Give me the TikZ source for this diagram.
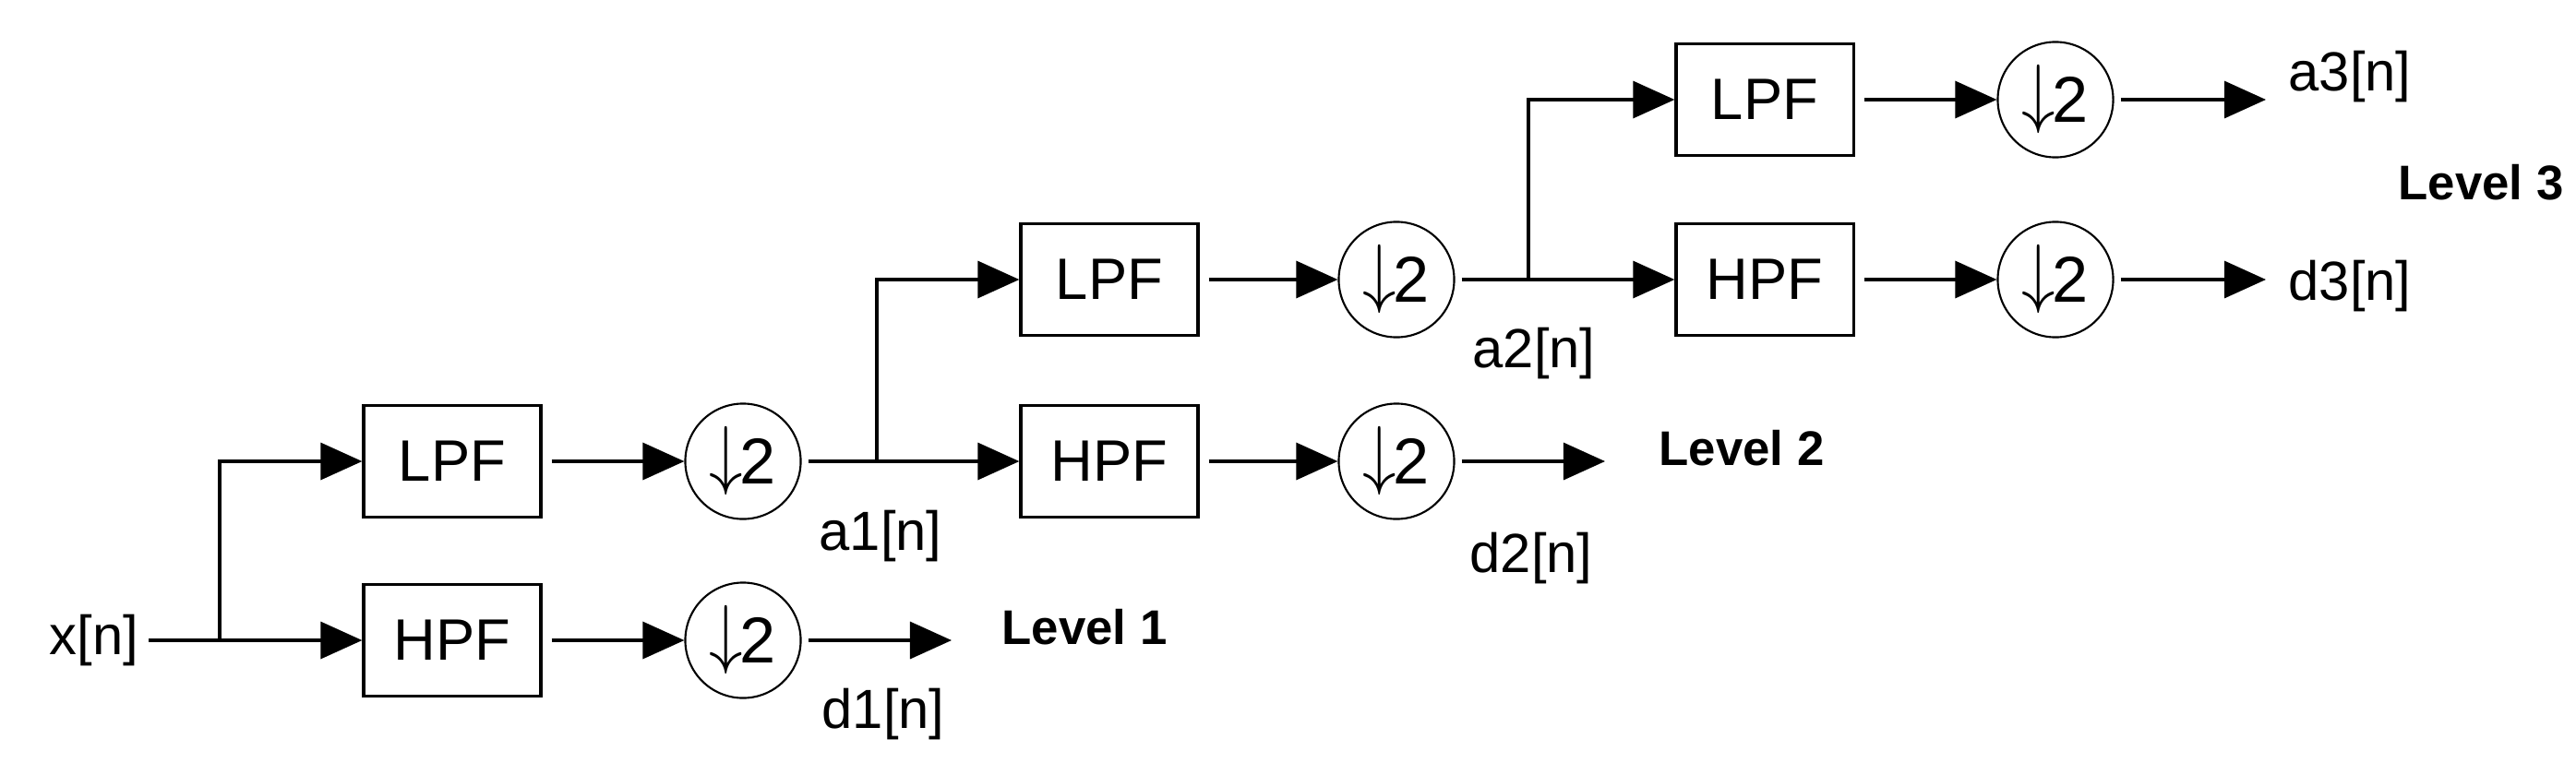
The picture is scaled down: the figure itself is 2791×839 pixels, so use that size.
\documentclass[tikz,border=0pt]{standalone}
\usepackage{fontspec}
\setmainfont{Liberation Sans}
\usetikzlibrary{arrows.meta}
\newcommand{\dnarr}{\raisebox{0.05em}{\scalebox{1}[1.15]{$\downarrow$}}\kern-0.05em 2}
\begin{document}
\begin{tikzpicture}[x=0.01cm,y=-0.01cm,
  filt/.style={draw,line width=0.9pt,minimum width=1.92cm,minimum height=1.21cm,inner sep=0pt,font=\fontsize{18}{20}\selectfont},
  ds/.style={draw,circle,line width=0.6pt,minimum size=1.25cm,inner sep=0pt,font=\fontsize{20}{22}\selectfont},
  lbl/.style={font=\fontsize{17}{19}\selectfont,inner sep=0pt},
  lvl/.style={font=\fontsize{15}{17}\selectfont\bfseries,inner sep=0pt},
  wire/.style={line width=0.9pt},
  arr/.style={line width=0.9pt,-{Triangle[length=0.45cm,width=0.4cm]}}]
\useasboundingbox (0,0) rectangle (2791,839);
% Level 1
\node[lbl] (x) at (102,694) {x[n]};
\coordinate (j1) at (238,694);
\node[filt] (L1) at (490,500) {LPF};
\node[filt] (H1) at (490,694) {HPF};
\node[ds] (D1a) at (805,500) {\dnarr};
\node[ds] (D1b) at (805,694) {\dnarr};
\coordinate (j2) at (950,500);
\coordinate (e1) at (1031,694);
\node[lbl] (a1) at (954,581) {a1[n]};
\node[lbl] (d1) at (957,774) {d1[n]};
\node[lvl] (lv1) at (1175,680) {Level 1};
% Level 2
\node[filt] (L2) at (1202,303) {LPF};
\node[filt] (H2) at (1202,500) {HPF};
\node[ds] (D2a) at (1513,303) {\dnarr};
\node[ds] (D2b) at (1513,500) {\dnarr};
\coordinate (j3) at (1656,303);
\coordinate (e2) at (1739,500);
\node[lbl] (a2) at (1662,383) {a2[n]};
\node[lbl] (d2) at (1659,605) {d2[n]};
\node[lvl] (lv2) at (1887,486) {Level 2};
% Level 3
\node[filt] (L3) at (1912,108) {LPF};
\node[filt] (H3) at (1912,303) {HPF};
\node[ds] (D3a) at (2227,108) {\dnarr};
\node[ds] (D3b) at (2227,303) {\dnarr};
\coordinate (e3a) at (2455,108);
\coordinate (e3b) at (2455,303);
\node[lbl] (a3) at (2546,83) {a3[n]};
\node[lbl] (d3) at (2546,310) {d3[n]};
\node[lvl] (lv3) at (2688,198) {Level 3};
% connectors
\draw[wire] (x) ++(59,0) -- (j1);
\draw[arr] (j1) |- (L1.west);
\draw[arr] (j1) -- (H1.west);
\draw[arr] (L1.east) ++(10,0) -- (D1a.west);
\draw[arr] (H1.east) ++(10,0) -- (D1b.west);
\draw[wire] (D1a.east) ++(7,0) -- (j2);
\draw[arr] (D1b.east) ++(7,0) -- (e1);
\draw[arr] (j2) |- (L2.west);
\draw[arr] (j2) -- (H2.west);
\draw[arr] (L2.east) ++(10,0) -- (D2a.west);
\draw[arr] (H2.east) ++(10,0) -- (D2b.west);
\draw[wire] (D2a.east) ++(7,0) -- (j3);
\draw[arr] (D2b.east) ++(7,0) -- (e2);
\draw[arr] (j3) |- (L3.west);
\draw[arr] (j3) -- (H3.west);
\draw[arr] (L3.east) ++(10,0) -- (D3a.west);
\draw[arr] (H3.east) ++(10,0) -- (D3b.west);
\draw[arr] (D3a.east) ++(7,0) -- (e3a);
\draw[arr] (D3b.east) ++(7,0) -- (e3b);
\end{tikzpicture}
\end{document}
